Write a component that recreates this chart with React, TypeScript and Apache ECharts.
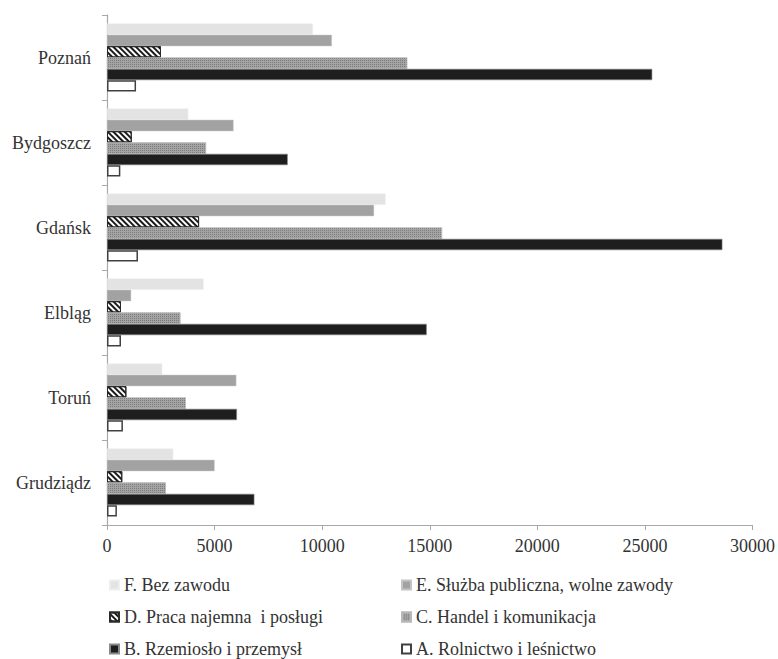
import React, { useEffect, useRef } from "react";
import * as echarts from "echarts";

const categories = ["Poznań", "Bydgoszcz", "Gdańsk", "Elbląg", "Toruń", "Grudziądz"];

const seriesNames = [
  "F. Bez zawodu",
  "E. Służba publiczna, wolne zawody",
  "D. Praca najemna  i posługi",
  "C. Handel i komunikacja",
  "B. Rzemiosło i przemysł",
  "A. Rolnictwo i leśnictwo",
];

const fBezZawodu = [9570, 3780, 12950, 4490, 2570, 3080];
const eSluzba = [10450, 5880, 12410, 1120, 6010, 5000];
const dPraca = [2510, 1150, 4280, 650, 900, 710];
const cHandel = [13950, 4600, 15570, 3410, 3660, 2730];
const bRzemioslo = [25340, 8400, 28600, 14860, 6040, 6850];
const aRolnictwo = [1350, 620, 1440, 650, 740, 460];

const xMin = 0;
const xMax = 30000;
const xInterval = 5000;

const FONT = "serif";

export default function App() {
  const ref = useRef<HTMLDivElement>(null);

  useEffect(() => {
    if (!ref.current) return;
    const chart = echarts.init(ref.current, null, { renderer: "svg" });

    const values = [fBezZawodu, eSluzba, dPraca, cHandel, bRzemioslo, aRolnictwo];
    const styles: any[] = [
      { color: "#e3e3e3", borderColor: "#eeeeee", borderWidth: 0.5 },
      { color: "#a2a2a2", borderColor: "#c4c4c4", borderWidth: 0.5 },
      {
        color: "#ffffff",
        borderColor: "#2a2a2a",
        borderWidth: 1,
        decal: {
          symbol: "rect",
          symbolSize: 1,
          symbolKeepAspect: false,
          color: "#1a1a1a",
          dashArrayX: [1, 0],
          dashArrayY: [2, 2],
          rotation: Math.PI / 4,
        },
      },
      {
        color: "#a4a4a4",
        borderColor: "#b8b8b8",
        borderWidth: 0.5,
        decal: {
          symbol: "rect",
          symbolSize: 1,
          symbolKeepAspect: false,
          color: "#7c7c7c",
          dashArrayX: [1, 1],
          dashArrayY: [1, 1],
          rotation: 0,
        },
      },
      { color: "#1e1e1e", borderColor: "#8a8a8a", borderWidth: 0.6 },
      { color: "#ffffff", borderColor: "#404040", borderWidth: 1.5 },
    ];

    const series = seriesNames.map((name, i) => ({
      name,
      type: "bar",
      data: values[i],
      barGap: "0%",
      barCategoryGap: "20%",
      itemStyle: styles[i],
      emphasis: { disabled: true },
    }));

    const legendText = { fontFamily: FONT, fontSize: 18, color: "#333" };

    chart.setOption({
      animation: false,
      textStyle: { fontFamily: FONT, fontSize: 18 },
      grid: { left: 107, right: 25, top: 15, bottom: 134, containLabel: false },
      xAxis: {
        type: "value",
        min: xMin,
        max: xMax,
        interval: xInterval,
        axisLine: { show: true, lineStyle: { color: "#a8a8a8", width: 1.2 } },
        axisTick: { show: true, length: 5, lineStyle: { color: "#a8a8a8" } },
        splitLine: { show: false },
        axisLabel: {
          fontFamily: FONT,
          fontSize: 18,
          color: "#333",
          margin: 12,
          formatter: (v: number) => String(v),
        },
      },
      yAxis: {
        type: "category",
        data: categories,
        inverse: true,
        axisLine: { show: true, lineStyle: { color: "#a8a8a8", width: 1.2 } },
        axisTick: { show: true, length: 5, lineStyle: { color: "#a8a8a8" } },
        axisLabel: { fontFamily: FONT, fontSize: 18, color: "#333", margin: 16 },
      },
      legend: [
        {
          orient: "vertical",
          left: 109,
          top: 576,
          padding: 0,
          itemGap: 14,
          itemWidth: 9,
          itemHeight: 9,
          icon: "rect",
          selectedMode: false,
          data: [seriesNames[0], seriesNames[2], seriesNames[4]],
          textStyle: legendText,
        },
        {
          orient: "vertical",
          left: 401,
          top: 576,
          padding: 0,
          itemGap: 14,
          itemWidth: 9,
          itemHeight: 9,
          icon: "rect",
          selectedMode: false,
          data: [seriesNames[1], seriesNames[3], seriesNames[5]],
          textStyle: legendText,
        },
      ],
      series,
    });

    return () => chart.dispose();
  }, []);

  return (
    <div
      ref={ref}
      style={{ position: "fixed", left: 0, top: 0, width: 778, height: 659, background: "#fff" }}
    />
  );
}
